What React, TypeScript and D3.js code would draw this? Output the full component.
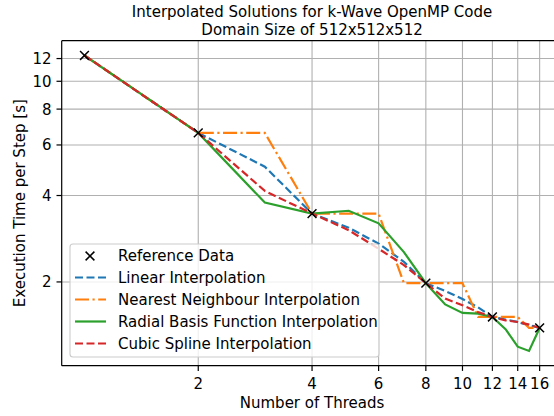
import React from "react";
import * as d3 from "d3";

// number of threads used for the interpolated curves
const threads = [1, 2, 3, 4, 5, 6, 7, 8, 9, 10, 11, 12, 13, 14, 15, 16];

// measured reference points
const refThreads = [1, 2, 4, 8, 12, 16];
const refTime = [12.3, 6.61, 3.46, 1.98, 1.51, 1.383];

// execution time per step for each interpolation method
const linearTime = [12.3, 6.61, 5.04, 3.46, 3.09, 2.72, 2.35, 1.98, 1.86, 1.745, 1.63, 1.51, 1.48, 1.45, 1.415, 1.383];
const nearestTime = [12.3, 6.61, 6.61, 3.46, 3.46, 3.46, 1.98, 1.98, 1.98, 1.98, 1.51, 1.51, 1.51, 1.51, 1.383, 1.383];
const rbfTime = [12.3, 6.61, 3.78, 3.46, 3.54, 3.2, 2.54, 1.98, 1.67, 1.56, 1.55, 1.51, 1.37, 1.19, 1.15, 1.383];
const cubicTime = [12.3, 6.61, 4.15, 3.46, 3.03, 2.61, 2.29, 1.98, 1.75, 1.66, 1.57, 1.51, 1.47, 1.45, 1.42, 1.383];

const xTicks = [2, 4, 6, 8, 10, 12, 14, 16];
const yTicks = [2, 4, 6, 8, 10, 12];

const seriesNames = [
  "Linear Interpolation",
  "Nearest Neighbour Interpolation",
  "Radial Basis Function Interpolation",
  "Cubic Spline Interpolation",
];

export default function App() {
  const width = 554;
  const height = 416;
  const left = 61.7;
  const top = 40.7;
  const plotW = 500.7;
  const plotH = 325;
  const font = "DejaVu Sans, sans-serif";
  const fs = 15;
  const lw = 2.2;

  const series = [
    { name: seriesNames[0], values: linearTime, color: "#1f77b4", dash: "8,3.5" },
    { name: seriesNames[1], values: nearestTime, color: "#ff7f0e", dash: "14,3.5,2.2,3.5" },
    { name: seriesNames[2], values: rbfTime, color: "#2ca02c", dash: null },
    { name: seriesNames[3], values: cubicTime, color: "#d62728", dash: "8,3.5" },
  ];

  // matplotlib style 5% margins in log space
  const allY = series.flatMap((s) => s.values).concat(refTime);
  const [yMin, yMax] = d3.extent(allY) as [number, number];
  const ly0 = Math.log10(yMin), ly1 = Math.log10(yMax);
  const ym = (ly1 - ly0) * 0.05;
  const [xMin, xMax] = d3.extent(threads) as [number, number];
  const lx0 = Math.log2(xMin), lx1 = Math.log2(xMax);
  const xm = (lx1 - lx0) * 0.05;

  const x = d3.scaleLog().base(2).domain([2 ** (lx0 - xm), 2 ** (lx1 + xm)]).range([left, left + plotW]);
  const y = d3.scaleLog().domain([10 ** (ly0 - ym), 10 ** (ly1 + ym)]).range([top + plotH, top]);

  const line = d3
    .line<number>()
    .x((d, i) => x(threads[i]))
    .y((d) => y(d));

  const legendX = 70;
  const legendY = 244;
  const rowH = 22;

  const cross = (cx: number, cy: number, r: number) =>
    `M${cx - r},${cy - r}L${cx + r},${cy + r}M${cx - r},${cy + r}L${cx + r},${cy - r}`;

  return (
    <svg width={width} height={height} style={{ position: "absolute", left: 0, top: 0, background: "#fff" }} fontFamily={font}>
      <defs>
        <clipPath id="plot">
          <rect x={left} y={top} width={plotW} height={plotH} />
        </clipPath>
      </defs>

      {/* title */}
      <text x={left + plotW / 2} y={17} fontSize={fs} textAnchor="middle">
        Interpolated Solutions for k-Wave OpenMP Code
      </text>
      <text x={left + plotW / 2} y={34.5} fontSize={fs} textAnchor="middle">
        Domain Size of 512x512x512
      </text>

      {/* grid */}
      {xTicks.map((t) => (
        <line key={"gx" + t} x1={x(t)} x2={x(t)} y1={top} y2={top + plotH} stroke="#b0b0b0" strokeWidth={1.1} />
      ))}
      {yTicks.map((t) => (
        <line key={"gy" + t} x1={left} x2={left + plotW} y1={y(t)} y2={y(t)} stroke="#b0b0b0" strokeWidth={1.1} />
      ))}

      {/* series */}
      <g clipPath="url(#plot)">
        {series.map((s) => (
          <path
            key={s.name}
            d={line(s.values) || ""}
            fill="none"
            stroke={s.color}
            strokeWidth={lw}
            strokeDasharray={s.dash || undefined}
          />
        ))}
        {refThreads.map((t, i) => (
          <path key={"ref" + t} d={cross(x(t), y(refTime[i]), 4.4)} stroke="#000" strokeWidth={1.5} />
        ))}
      </g>

      {/* spines */}
      <line x1={left} x2={left} y1={top} y2={top + plotH} stroke="#000" strokeWidth={1.2} />
      <line x1={left} x2={left + plotW} y1={top + plotH} y2={top + plotH} stroke="#000" strokeWidth={1.2} />
      <line x1={left} x2={left + plotW} y1={top} y2={top} stroke="#000" strokeWidth={1.2} />

      {/* x axis */}
      {xTicks.map((t) => (
        <g key={"xt" + t}>
          <line x1={x(t)} x2={x(t)} y1={top + plotH} y2={top + plotH + 5.2} stroke="#000" strokeWidth={1.2} />
          <text x={x(t)} y={388.5} fontSize={fs} textAnchor="middle">
            {t}
          </text>
        </g>
      ))}
      <text x={left + plotW / 2} y={408} fontSize={fs} textAnchor="middle">
        Number of Threads
      </text>

      {/* y axis */}
      {yTicks.map((t) => (
        <g key={"yt" + t}>
          <line x1={left - 5.2} x2={left} y1={y(t)} y2={y(t)} stroke="#000" strokeWidth={1.2} />
          <text x={51.5} y={y(t)} dy="0.36em" fontSize={fs} textAnchor="end">
            {t}
          </text>
        </g>
      ))}
      <text transform={`translate(25,${top + plotH / 2}) rotate(-90)`} fontSize={fs} textAnchor="middle">
        Execution Time per Step [s]
      </text>

      {/* legend */}
      <rect x={legendX} y={legendY} width={309} height={113} rx={3} fill="#fff" fillOpacity={0.8} stroke="#cccccc" strokeWidth={1.1} />
      <path d={cross(90, 256, 4.4)} stroke="#000" strokeWidth={1.5} />
      <text x={118} y={256} dy="0.36em" fontSize={fs}>
        Reference Data
      </text>
      {series.map((s, i) => {
        const ly = 256 + rowH * (i + 1) - 0.5;
        return (
          <g key={"lg" + s.name}>
            <line x1={75} x2={106} y1={ly} y2={ly} stroke={s.color} strokeWidth={lw} strokeDasharray={s.dash || undefined} />
            <text x={118} y={ly} dy="0.36em" fontSize={fs}>
              {s.name}
            </text>
          </g>
        );
      })}
    </svg>
  );
}
